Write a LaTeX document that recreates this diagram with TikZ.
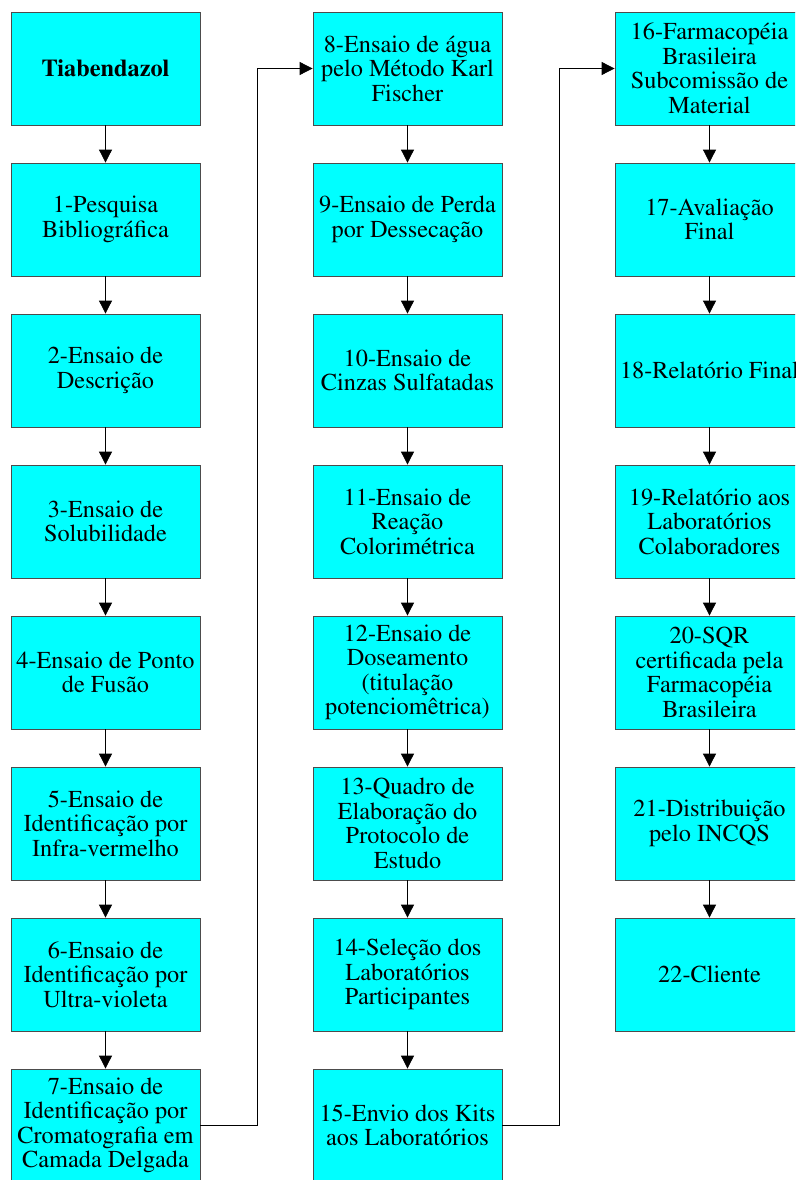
\documentclass[tikz,border=0pt]{standalone}
\usepackage[T1]{fontenc}
\usepackage{times}
\usetikzlibrary{arrows.meta}
\definecolor{ciano}{RGB}{0,255,255}

\begin{document}
\begin{tikzpicture}[x=1pt,y=-1pt]
\tikzstyle{every node}+=[inner sep=0pt]
\tikzstyle{passo}=[draw=black!70,fill=ciano,line width=0.8pt,minimum width=189pt,minimum height=113pt,align=center,font=\fontsize{24.3}{24.5}\selectfont]
\tikzstyle{seta}=[black,line width=0.8pt,-{Triangle[length=13pt,width=13pt]}]
\useasboundingbox (0,0) rectangle (795,1180);
\clip (0,0) rectangle (795,1180);
% coluna 1
\node [passo] (t) at (105.5,68.5) {\textbf{Tiabendazol}};
\node [passo] (p1) at (105.5,219.5) {1-Pesquisa\\Bibliográfica};
\node [passo] (p2) at (105.5,370.5) {2-Ensaio de\\Descrição};
\node [passo] (p3) at (105.5,521.5) {3-Ensaio de\\Solubilidade};
\node [passo] (p4) at (105.5,672.5) {4-Ensaio de Ponto\\de Fusão};
\node [passo] (p5) at (105.5,823.5) {5-Ensaio de\\Identificação por\\Infra-vermelho};
\node [passo] (p6) at (105.5,974.5) {6-Ensaio de\\Identificação por\\Ultra-violeta};
\node [passo] (p7) at (105.5,1125.5) {7-Ensaio de\\Identificação por\\Cromatografia em\\Camada Delgada};
% coluna 2
\node [passo] (p8) at (407.5,68.5) {8-Ensaio de água\\pelo Método Karl\\Fischer};
\node [passo] (p9) at (407.5,219.5) {9-Ensaio de Perda\\por Dessecação};
\node [passo] (p10) at (407.5,370.5) {10-Ensaio de\\Cinzas Sulfatadas};
\node [passo] (p11) at (407.5,521.5) {11-Ensaio de\\Reação\\Colorimétrica};
\node [passo] (p12) at (407.5,672.5) {12-Ensaio de\\Doseamento\\(titulação\\potenciomêtrica)};
\node [passo] (p13) at (407.5,823.5) {13-Quadro de\\Elaboração do\\Protocolo de\\Estudo};
\node [passo] (p14) at (407.5,974.5) {14-Seleção dos\\Laboratórios\\Participantes};
\node [passo] (p15) at (407.5,1125.5) {15-Envio dos Kits\\aos Laboratórios};
% coluna 3
\node [passo] (p16) at (709.5,68.5) {16-Farmacopéia\\Brasileira\\Subcomissão de\\Material};
\node [passo] (p17) at (709.5,219.5) {17-Avaliação\\Final};
\node [passo] (p18) at (709.5,370.5) {18-Relatório Final};
\node [passo] (p19) at (709.5,521.5) {19-Relatório aos\\Laboratórios\\Colaboradores};
\node [passo] (p20) at (709.5,672.5) {20-SQR\\certificada pela\\Farmacopéia\\Brasileira};
\node [passo] (p21) at (709.5,823.5) {21-Distribuição\\pelo INCQS};
\node [passo] (p22) at (709.5,974.5) {22-Cliente};
% setas
\draw [seta] (t) -- (p1);
\draw [seta] (p1) -- (p2);
\draw [seta] (p2) -- (p3);
\draw [seta] (p3) -- (p4);
\draw [seta] (p4) -- (p5);
\draw [seta] (p5) -- (p6);
\draw [seta] (p6) -- (p7);
\draw [seta] (p7.east) -- ++(57,0) |- (p8.west);
\draw [seta] (p8) -- (p9);
\draw [seta] (p9) -- (p10);
\draw [seta] (p10) -- (p11);
\draw [seta] (p11) -- (p12);
\draw [seta] (p12) -- (p13);
\draw [seta] (p13) -- (p14);
\draw [seta] (p14) -- (p15);
\draw [seta] (p15.east) -- ++(57,0) |- (p16.west);
\draw [seta] (p16) -- (p17);
\draw [seta] (p17) -- (p18);
\draw [seta] (p18) -- (p19);
\draw [seta] (p19) -- (p20);
\draw [seta] (p20) -- (p21);
\draw [seta] (p21) -- (p22);
\end{tikzpicture}
\end{document}
